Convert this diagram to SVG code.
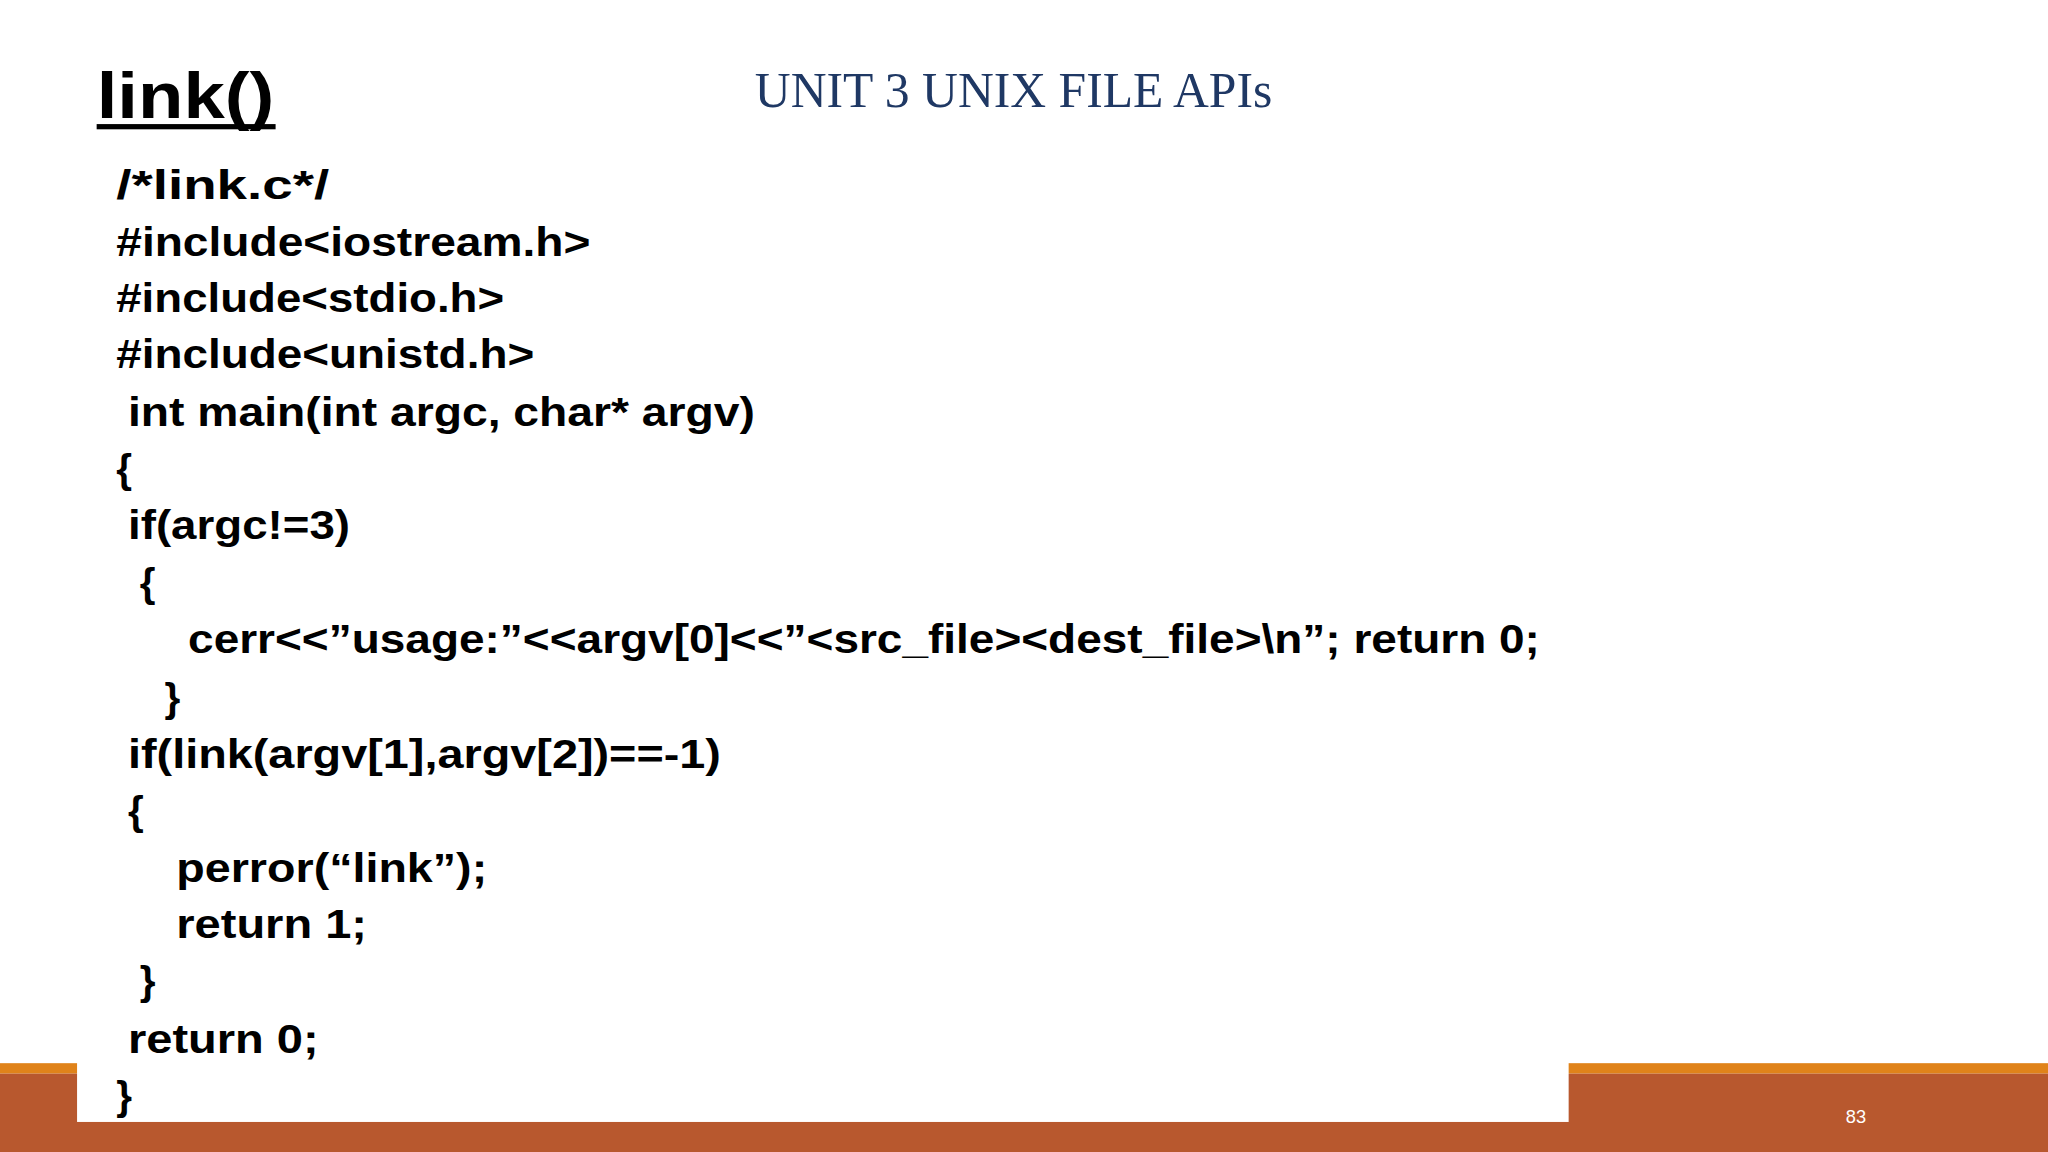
<svg xmlns="http://www.w3.org/2000/svg" width="2048" height="1152" viewBox="0 0 2048 1152">
<style>
.c{font-family:"Liberation Sans",Arial,sans-serif;font-weight:bold;font-size:31px;fill:#000}
</style>
<rect width="2048" height="1152" fill="#fff"/>
<g transform="scale(1.30612)">
<g id="footer">
<rect x="0" y="814" width="1568" height="8" fill="#e0831a"/>
<rect x="0" y="822" width="1568" height="60" fill="#b8582e"/>
<rect x="59" y="0" width="1142" height="859" fill="#fff"/>
<text x="1421" y="860" font-family="Liberation Sans Narrow,Liberation Sans,sans-serif" font-size="14" fill="#fff" text-anchor="middle">83</text>
</g>
<g id="title">
<text x="74" y="90" font-family="Liberation Sans,Arial,sans-serif" font-weight="bold" font-size="50" textLength="136" lengthAdjust="spacingAndGlyphs">link()</text>
<rect x="74" y="95" width="137" height="4" fill="#000"/>
<text x="776" y="82" font-family="Liberation Serif,Times New Roman,serif" font-size="38" fill="#1f3864" text-anchor="middle">UNIT 3 UNIX FILE APIs</text>
</g>
<g id="code">
<text class="c" x="89" y="152" textLength="163" lengthAdjust="spacingAndGlyphs">/*link.c*/</text>
<text class="c" x="89" y="196" textLength="363" lengthAdjust="spacingAndGlyphs">#include&lt;iostream.h&gt;</text>
<text class="c" x="89" y="239" textLength="297" lengthAdjust="spacingAndGlyphs">#include&lt;stdio.h&gt;</text>
<text class="c" x="89" y="282" textLength="320" lengthAdjust="spacingAndGlyphs">#include&lt;unistd.h&gt;</text>
<text class="c" x="98" y="326" textLength="480" lengthAdjust="spacingAndGlyphs">int main(int argc, char* argv)</text>
<text class="c" x="89" y="370">{</text>
<text class="c" x="98" y="413" textLength="170" lengthAdjust="spacingAndGlyphs">if(argc!=3)</text>
<text class="c" x="107" y="457">{</text>
<text class="c" x="144" y="500" textLength="1035" lengthAdjust="spacingAndGlyphs">cerr&lt;&lt;”usage:”&lt;&lt;argv[0]&lt;&lt;”&lt;src_file&gt;&lt;dest_file&gt;\n”; return 0;</text>
<text class="c" x="126" y="545">}</text>
<text class="c" x="98" y="588" textLength="454" lengthAdjust="spacingAndGlyphs">if(link(argv[1],argv[2])==-1)</text>
<text class="c" x="98" y="632">{</text>
<text class="c" x="135" y="675" textLength="238" lengthAdjust="spacingAndGlyphs">perror(“link”);</text>
<text class="c" x="135" y="718" textLength="146" lengthAdjust="spacingAndGlyphs">return 1;</text>
<text class="c" x="107" y="762">}</text>
<text class="c" x="98" y="806" textLength="146" lengthAdjust="spacingAndGlyphs">return 0;</text>
<text class="c" x="89" y="850">}</text>
</g>
</g>
</svg>
